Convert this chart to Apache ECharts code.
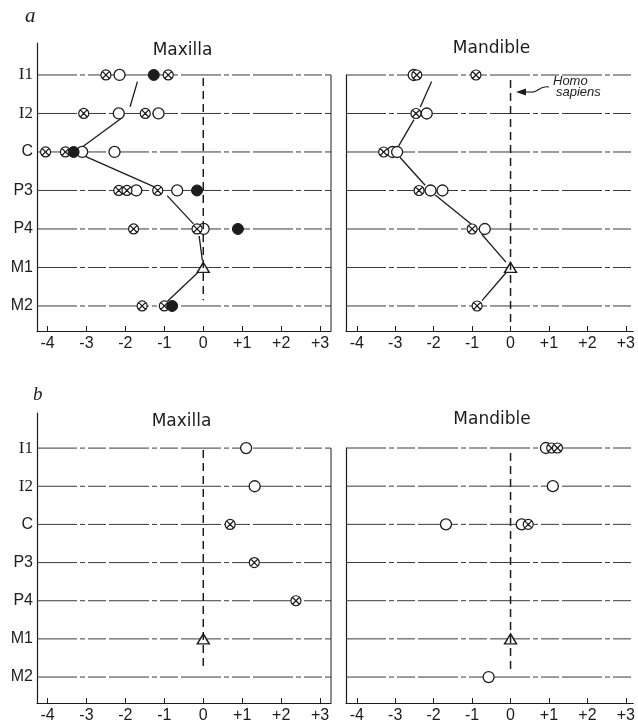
<!DOCTYPE html>
<html><head><meta charset="utf-8">
<script src="https://cdn.jsdelivr.net/npm/echarts@6/dist/echarts.min.js"></script>
<style>html,body{margin:0;padding:0;background:#fff}#c{width:638px;height:725px}</style>
</head><body><div id="c"></div>
<script>
// ---- data ----
const cats = ['I1','I2','C','P3','P4','M1','M2'];
const xTicks = [-4,-3,-2,-1,0,1,2,3];

// panel a, maxilla
const aMaxCrossed = [[-2.5,'I1'],[-0.9,'I1'],[-3.07,'I2'],[-1.49,'I2'],[-4.05,'C'],[-3.54,'C'],[-2.17,'P3'],[-1.96,'P3'],[-1.17,'P3'],[-1.79,'P4'],[-0.16,'P4'],[-1.57,'M2'],[-1.0,'M2']];
const aMaxOpen = [[-2.15,'I1'],[-2.17,'I2'],[-1.15,'I2'],[-3.11,'C'],[-2.28,'C'],[-1.72,'P3'],[-0.67,'P3'],[0.01,'P4']];
const aMaxFilled = [[-1.27,'I1'],[-3.33,'C'],[-0.16,'P3'],[0.89,'P4'],[-0.8,'M2']];
const aMaxTri = [[0,'M1']];
const aMaxMean = [-1.64,-1.93,-3.28,-1.05,-0.13,0,-1.05];

// panel a, mandible
const aManCrossed = [[-2.44,'I1'],[-0.9,'I1'],[-2.46,'I2'],[-3.3,'C'],[-2.38,'P3'],[-1.0,'P4'],[-0.87,'M2']];
const aManOpen = [[-2.52,'I1'],[-2.18,'I2'],[-3.07,'C'],[-2.95,'C'],[-2.08,'P3'],[-1.77,'P3'],[-0.67,'P4']];
const aManTri = [[0,'M1']];
const aManMean = [-1.98,-2.42,-3.0,-2.1,-0.87,0,-0.86];

// panel b, maxilla
const bMaxCrossed = [[0.69,'C'],[1.31,'P3'],[2.38,'P4']];
const bMaxOpen = [[1.1,'I1'],[1.32,'I2']];
const bMaxTri = [[0,'M1']];

// panel b, mandible
const bManCrossed = [[1.07,'I1'],[1.22,'I1'],[0.46,'C']];
const bManOpen = [[0.92,'I1'],[1.1,'I2'],[-1.68,'C'],[0.29,'C'],[-0.57,'M2']];
const bManTri = [[0,'M1']];

// ---- layout / style ----
const INK = '#1c1c1c';
const LINE = '#3a3a3a';
const SANS = 'Liberation Sans, Arial, sans-serif';
const SERIF = 'Liberation Serif, Times New Roman, serif';

const grids = [
  {left:37, top:43, width:294, height:288},
  {left:346, top:75, width:291, height:256},
  {left:37, top:413, width:294, height:290},
  {left:346, top:448, width:291, height:255}
];
const yRanges = [[0.17,7.65],[1,7.65],[0.08,7.68],[1,7.68]];
const xRanges = [[-4.27,3.28],[-4.28,3.19],[-4.27,3.28],[-4.28,3.19]];
const zeroSpans = [[1.08,6.85],[1.13,7.45],[1.05,6.8],[1.13,6.85]];

const CROSS = 'path://M0,10A10,10 0 1 1 20,10A10,10 0 1 1 0,10Z M2.93,2.93L17.07,17.07 M17.07,2.93L2.93,17.07';

function pts(arr){ return arr.map(d => [d[0], cats.indexOf(d[1]) + 1]); }

function markers(gi, data, kind){
  const s = {type:'scatter', xAxisIndex:gi, yAxisIndex:gi, data:pts(data), silent:true, animation:false, clip:false};
  if (kind === 'crossed') Object.assign(s, {symbol:CROSS, symbolSize:10, itemStyle:{color:'#fff', borderColor:INK, borderWidth:1.2, opacity:1}});
  if (kind === 'open') Object.assign(s, {symbol:'circle', symbolSize:11, itemStyle:{color:'#fff', borderColor:INK, borderWidth:1.3, opacity:1}});
  if (kind === 'filled') Object.assign(s, {symbol:'circle', symbolSize:11, itemStyle:{color:INK, borderColor:INK, borderWidth:1, opacity:1}});
  if (kind === 'tri') Object.assign(s, {symbol:'triangle', symbolSize:[12,10], itemStyle:{color:'#fff', borderColor:INK, borderWidth:1.4, opacity:1}});
  return s;
}

function hlines(gi){
  return {type:'custom', xAxisIndex:gi, yAxisIndex:gi, silent:true, animation:false,
    data: cats.map((c,i) => [0, i+1]), encode:{x:0, y:1},
    renderItem: function(params, api){
      const p = api.coord([api.value(0), api.value(1)]);
      const cs = params.coordSys;
      return {type:'line', shape:{x1:cs.x, y1:p[1], x2:cs.x+cs.width, y2:p[1]},
        style:{stroke:LINE, lineWidth:1, lineDash:[40,3,5,3,18,3]}};
    }};
}

function zeroLine(gi){
  const sp = zeroSpans[gi];
  return {type:'line', xAxisIndex:gi, yAxisIndex:gi, silent:true, animation:false, clip:false,
    data:[[0, sp[0]],[0, sp[1]]], symbol:'none',
    lineStyle:{color:INK, width:1.5, type:[8,5]}};
}

function rightBorder(gi){
  return {type:'line', xAxisIndex:gi, yAxisIndex:gi, silent:true, animation:false, clip:false,
    data:[[xRanges[gi][1], 1],[xRanges[gi][1], yRanges[gi][1]]], symbol:'none',
    lineStyle:{color:INK, width:1}};
}

function meanLine(gi, means){
  const segs = [];
  for (let i = 0; i < means.length - 1; i++) segs.push([means[i], i+1, means[i+1], i+2]);
  const GAP = 7;
  return {type:'custom', xAxisIndex:gi, yAxisIndex:gi, silent:true, animation:false,
    data:segs, encode:{x:[0,2], y:[1,3]},
    renderItem: function(params, api){
      const a = api.coord([api.value(0), api.value(1)]);
      const b = api.coord([api.value(2), api.value(3)]);
      const dx = b[0]-a[0], dy = b[1]-a[1];
      const L = Math.sqrt(dx*dx+dy*dy);
      const ux = dx/L, uy = dy/L;
      return {type:'line', shape:{x1:a[0]+ux*GAP, y1:a[1]+uy*GAP, x2:b[0]-ux*GAP, y2:b[1]-uy*GAP},
        style:{stroke:INK, lineWidth:1.3}};
    }};
}

const xAxes = grids.map((g, gi) => ({
  gridIndex:gi, type:'value', min:xRanges[gi][0], max:xRanges[gi][1],
  axisLine:{show:true, onZero:false, lineStyle:{color:INK, width:1.2}},
  axisTick:{show:true, inside:true, length:5, customValues:xTicks, lineStyle:{color:INK, width:1}},
  axisLabel:{show:true, customValues:xTicks, margin:5, fontSize:16, fontFamily:SANS, color:INK,
    formatter: v => v > 0 ? '+' + v : (v < 0 ? '-' + Math.abs(v) : '0')},
  splitLine:{show:false}
}));

const yAxes = grids.map((g, gi) => ({
  gridIndex:gi, type:'value', inverse:true, min:yRanges[gi][0], max:yRanges[gi][1],
  axisLine:{show:true, onZero:false, lineStyle:{color:INK, width:1.2}},
  axisTick:{show:false},
  splitLine:{show:false},
  axisLabel: (gi % 2 === 0) ? {
    show:true, customValues:[1,2,3,4,5,6,7], margin:4, fontSize:16, fontFamily:SANS, color:INK,
    formatter: v => { const c = cats[Math.round(v)-1] || ''; return c.charAt(0) === 'I' ? '{s|' + c + '}' : c; },
    rich:{s:{fontFamily:SERIF, fontSize:17, color:INK}}
  } : {show:false}
}));

const series = [];
grids.forEach((g, gi) => { series.push(hlines(gi)); series.push(zeroLine(gi)); });
series.push(rightBorder(0), rightBorder(2));
series.push(meanLine(0, aMaxMean), meanLine(1, aManMean));
series.push(markers(0, aMaxOpen, 'open'), markers(0, aMaxCrossed, 'crossed'), markers(0, aMaxFilled, 'filled'), markers(0, aMaxTri, 'tri'));
series.push(markers(1, aManOpen, 'open'), markers(1, aManCrossed, 'crossed'), markers(1, aManTri, 'tri'));
series.push(markers(2, bMaxOpen, 'open'), markers(2, bMaxCrossed, 'crossed'), markers(2, bMaxTri, 'tri'));
series.push(markers(3, bManOpen, 'open'), markers(3, bManCrossed, 'crossed'), markers(3, bManTri, 'tri'));

function label(text, x, y, opts){
  return Object.assign({type:'text', x:x, y:y, silent:true,
    style:Object.assign({text:text, fill:INK, align:'center', verticalAlign:'middle', fontSize:17, fontFamily:'DejaVu Sans, sans-serif'}, opts || {})});
}

const graphic = [
  label('a', 25, 16, {fontFamily:SERIF, fontStyle:'italic', fontSize:21, align:'left'}),
  label('b', 33, 395, {fontFamily:SERIF, fontStyle:'italic', fontSize:19, align:'left'}),
  label('Maxilla', 182.5, 51),
  label('Mandible', 491.5, 49),
  label('Maxilla', 181.5, 421.5),
  label('Mandible', 492, 420),
  label('Homo', 553, 81, {fontFamily:SANS, fontStyle:'italic', fontSize:13, align:'left'}),
  label('sapiens', 556, 92.5, {fontFamily:SANS, fontStyle:'italic', fontSize:13, align:'left'}),
  {type:'line', silent:true, shape:{x1:522, y1:92, x2:531, y2:92}, style:{stroke:INK, lineWidth:1.1}},
  {type:'bezierCurve', silent:true, shape:{x1:531, y1:92, cpx1:538, cpy1:93.5, cpx2:539, cpy2:85, x2:549, y2:87},
   style:{stroke:INK, lineWidth:1.1, fill:null}},
  {type:'polygon', silent:true, shape:{points:[[516,92],[526,88.5],[526,95.5]]}, style:{fill:INK}}
];

const chart = echarts.init(document.getElementById('c'), null, {renderer:'canvas'});
chart.setOption({
  backgroundColor:'#fff',
  animation:false,
  grid:grids,
  xAxis:xAxes,
  yAxis:yAxes,
  series:series,
  graphic:graphic
});
</script>
</body></html>
